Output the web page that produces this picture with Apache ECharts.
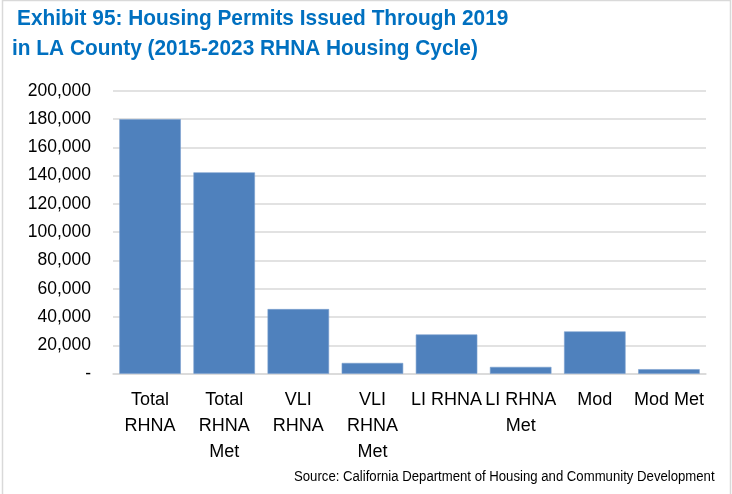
<!DOCTYPE html>
<html><head><meta charset="utf-8">
<script src="https://cdn.jsdelivr.net/npm/echarts@6/dist/echarts.min.js"></script>
<style>html,body{margin:0;padding:0;background:#fff}#c{width:732px;height:494px}</style>
</head><body><div id="c"></div>
<script>
const categories = ["Total\nRHNA", "Total\nRHNA\nMet", "VLI\nRHNA", "VLI\nRHNA\nMet", "LI RHNA", "LI RHNA\nMet", "Mod", "Mod Met"];
const permits = [179881, 142300, 45672, 7600, 27738, 4800, 29879, 3200];
const titleLines = ["Exhibit 95: Housing Permits Issued Through 2019", "in LA County (2015-2023 RHNA Housing Cycle)"];
const sourceText = "Source: California Department of Housing and Community Development";

const chart = echarts.init(document.getElementById('c'), null, {renderer: 'canvas'});
const FN = '"Liberation Sans Narrow", "Liberation Sans", Arial, sans-serif';
chart.setOption({
  animation: false,
  backgroundColor: '#fff',
  graphic: [
    {type: 'rect', shape: {x: 2.5, y: 0.5, width: 728, height: 500}, style: {fill: null, stroke: '#d9d9d9', lineWidth: 1.5}},
    {type: 'text', x: 17, y: 8, scaleX: 0.948, style: {text: titleLines[0], font: 'bold 22px ' + FN, fill: '#0070C0'}},
    {type: 'text', x: 12, y: 38, scaleX: 0.948, style: {text: titleLines[1], font: 'bold 22px ' + FN, fill: '#0070C0'}},
    {type: 'text', x: 294, y: 470, scaleX: 0.94, style: {text: sourceText, font: '14px ' + FN, fill: '#000'}}
  ],
  grid: {left: 113, right: 26, top: 90.7, bottom: 120.3},
  xAxis: {
    type: 'category', data: categories,
    axisLine: {show: true, lineStyle: {color: '#d9d9d9', width: 1.5}},
    axisTick: {show: false},
    axisLabel: {interval: 0, margin: 13, color: '#000', fontSize: 18, lineHeight: 26, fontFamily: FN}
  },
  yAxis: {
    type: 'value', min: 0, max: 200000, interval: 20000,
    axisLine: {show: false}, axisTick: {show: false},
    splitLine: {lineStyle: {color: '#d9d9d9', width: 1.5}},
    axisLabel: {margin: 22, color: '#000', fontSize: 17.5, fontFamily: FN,
      formatter: v => v === 0 ? '-' : v.toLocaleString('en-US')}
  },
  series: [{
    type: 'bar', data: permits, barWidth: '83%',
    itemStyle: {color: '#4F81BD', borderColor: '#7ba0cf', borderWidth: 0.6}
  }]
});
</script></body></html>
